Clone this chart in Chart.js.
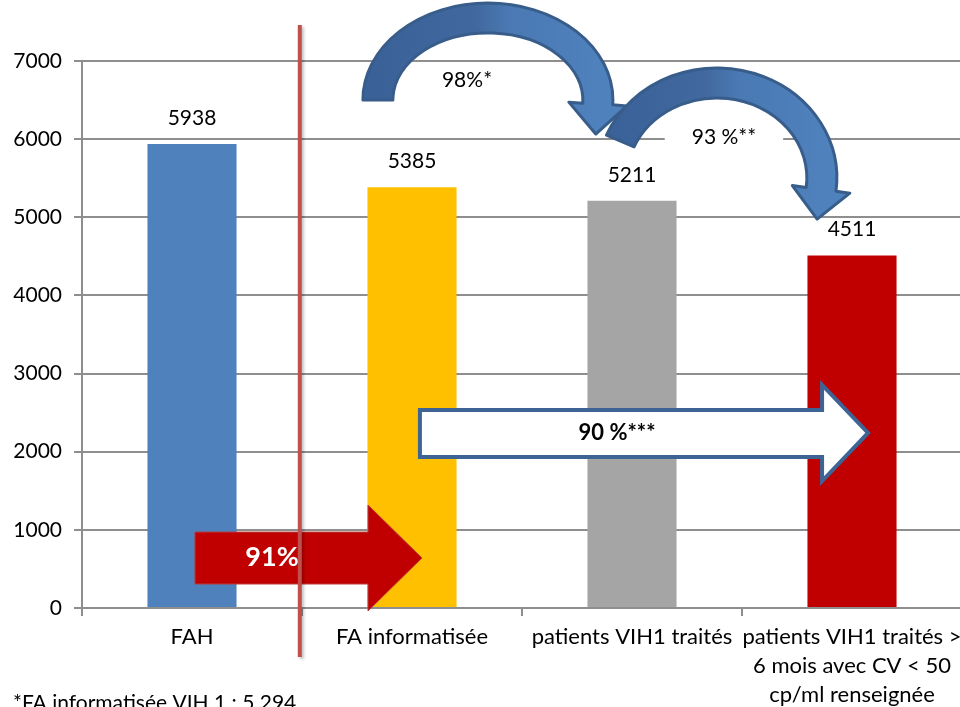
<!DOCTYPE html>
<html>
<head>
<meta charset="utf-8">
<script src="https://cdn.jsdelivr.net/npm/chart.js@4.4.0/dist/chart.umd.min.js"></script>
<style>
html,body{margin:0;padding:0;background:#fff;overflow:hidden;width:960px;height:707px;}
#wrap{position:absolute;left:0;top:0;width:962px;height:707px;}
</style>
</head>
<body>
<div id="wrap"><canvas id="c"></canvas></div>
<script>
// ---- data ----
const categories = [
  ['FAH'],
  ['FA informatisée'],
  ['patients VIH1 traités'],
  ['patients VIH1 traités >', '6 mois avec CV < 50', 'cp/ml renseignée']
];
const values = [5938, 5385, 5211, 4511];
const barColors = ['#4F81BD', '#FFC000', '#A5A5A5', '#C00000'];
const yMin = 0, yMax = 7000, yStep = 1000;
const curveLabels = ['98%*', '93 %**'];
const straightLabels = ['91%', '90 %***'];
const footnote = '*FA informatisée VIH 1 : 5 294';

const FONT = 'Lato, "Open Sans", "DejaVu Sans", sans-serif';
const GRID = '#8e8e8e';

function curvedArrow(ctx, cx, cy, rx, ry, a0, a1, t, extra, headLen) {
  const C = {x: cx + rx * Math.cos(a1), y: cy + ry * Math.sin(a1)};
  let tx = -rx * Math.sin(a1), ty = ry * Math.cos(a1);
  let tl = Math.hypot(tx, ty); tx /= tl; ty /= tl;
  let nx = ry * Math.cos(a1), ny = rx * Math.sin(a1);
  let nl = Math.hypot(nx, ny); nx /= nl; ny /= nl;
  const h = t / 2 + extra;
  ctx.beginPath();
  ctx.ellipse(cx, cy, rx + t / 2, ry + t / 2, 0, a0, a1, false);
  ctx.lineTo(C.x + nx * h, C.y + ny * h);
  ctx.lineTo(C.x + tx * headLen, C.y + ty * headLen);
  ctx.lineTo(C.x - nx * h, C.y - ny * h);
  ctx.ellipse(cx, cy, rx - t / 2, ry - t / 2, 0, a1, a0, true);
  ctx.closePath();
  const g = ctx.createLinearGradient(cx - rx, 0, cx + rx, 0);
  g.addColorStop(0, '#3B6298');
  g.addColorStop(0.45, '#41699F');
  g.addColorStop(0.6, '#4A79B3');
  g.addColorStop(1, '#4F81BD');
  ctx.fillStyle = g;
  ctx.fill();
  ctx.lineWidth = 3;
  ctx.strokeStyle = '#385D8A';
  ctx.lineJoin = 'round';
  ctx.stroke();
}

function straightArrow(ctx, X, Y, p, fill, stroke, lw) {
  ctx.beginPath();
  ctx.moveTo(X(p.x0), Y(p.top));
  ctx.lineTo(X(p.xh), Y(p.top));
  ctx.lineTo(X(p.xh), Y(p.htop));
  ctx.lineTo(X(p.xt), Y(p.mid));
  ctx.lineTo(X(p.xh), Y(p.hbot));
  ctx.lineTo(X(p.xh), Y(p.bot));
  ctx.lineTo(X(p.x0), Y(p.bot));
  ctx.closePath();
  ctx.fillStyle = fill;
  ctx.fill();
  ctx.lineWidth = lw;
  ctx.strokeStyle = stroke;
  ctx.lineJoin = 'miter';
  ctx.stroke();
}

const deco = {
  id: 'deco',
  afterDatasetsDraw(chart) {
    const ctx = chart.ctx;
    const xs = chart.scales.x, ys = chart.scales.y;
    const X = c => xs.getPixelForValue(c);
    const Y = v => ys.getPixelForValue(v);
    ctx.save();

    // white label boxes and texts for curved arrows
    ctx.font = '21px ' + FONT;
    ctx.textAlign = 'center';
    ctx.textBaseline = 'middle';
    const boxes = [{c: 1.25, v: 6757}, {c: 2.418, v: 6027}];
    boxes.forEach((b, i) => {
      const w = ctx.measureText(curveLabels[i]).width + 54;
      ctx.fillStyle = '#fff';
      ctx.fillRect(X(b.c) - w / 2, Y(b.v) - 18, w, 36);
      ctx.fillStyle = '#000';
      ctx.fillText(curveLabels[i], X(b.c), Y(b.v));
    });

    // curved arrows
    const arcs = [
      {c: 1.345, v: 6501, rc: 0.5, rv: 1049, a0: Math.PI, a1: 2 * Math.PI + 0.05},
      {c: 2.386, v: 5503, rc: 0.477, rv: 1216, a0: Math.PI + 0.4, a1: 2 * Math.PI + 0.12}
    ];
    arcs.forEach(a => {
      const cx = X(a.c), cy = Y(a.v);
      const rx = X(a.c + a.rc) - cx, ry = cy - Y(a.v + a.rv);
      curvedArrow(ctx, cx, cy, rx, ry, a.a0, a.a1, 30, 14, 30);
    });

    // value labels
    ctx.font = '21px ' + FONT;
    ctx.fillStyle = '#000';
    chart.getDatasetMeta(0).data.forEach((bar, i) => {
      ctx.fillText(String(values[i]), bar.x, bar.y - 26);
    });

    // red straight arrow
    straightArrow(ctx, X, Y, {x0: 0.0136, xh: 0.8, xt: 1.045, top: 972, bot: 307, htop: 1318, hbot: -38, mid: 640}, '#C00000', '#B83A3A', 1);
    ctx.font = 'bold 27px ' + FONT;
    ctx.fillStyle = '#fff';
    ctx.fillText(straightLabels[0], X(0.364), Y(653));

    // white straight arrow
    straightArrow(ctx, X, Y, {x0: 1.036, xh: 2.864, xt: 3.073, top: 2534, bot: 1932, htop: 2854, hbot: 1625, mid: 2240}, '#FFFFFF', '#3E6496', 4);
    ctx.font = 'bold 22px ' + FONT;
    ctx.fillStyle = '#000';
    ctx.fillText(straightLabels[1], X(1.932), Y(2240));

    // red vertical separator
    ctx.shadowColor = 'rgba(0,0,0,0.25)';
    ctx.shadowOffsetX = 2;
    ctx.shadowOffsetY = 2;
    ctx.shadowBlur = 3;
    ctx.beginPath();
    ctx.moveTo(X(0.49), Y(7461));
    ctx.lineTo(X(0.49), Y(-627));
    ctx.lineWidth = 4;
    ctx.strokeStyle = '#C0504D';
    ctx.stroke();
    ctx.shadowColor = 'transparent';

    // footnote
    ctx.font = '21px ' + FONT;
    ctx.fillStyle = '#000';
    ctx.textAlign = 'left';
    ctx.fillText(footnote, 13, 703);

    ctx.restore();
  }
};

new Chart(document.getElementById('c'), {
  type: 'bar',
  data: {
    labels: categories,
    datasets: [{
      data: values,
      backgroundColor: barColors,
      borderWidth: 0,
      categoryPercentage: 1,
      barPercentage: 0.405
    }]
  },
  options: {
    responsive: true,
    maintainAspectRatio: false,
    animation: false,
    layout: {autoPadding: false, padding: {top: 61, left: 0, right: 0, bottom: 0}},
    plugins: {legend: {display: false}, tooltip: {enabled: false}, title: {display: false}},
    scales: {
      x: {
        grid: {offset: true, drawOnChartArea: false, color: GRID, lineWidth: 2, tickLength: 8},
        border: {color: GRID, width: 2},
        ticks: {font: {family: FONT, size: 22, lineHeight: 1.32}, color: '#000', padding: 6, maxRotation: 0, autoSkip: false},
        afterFit(s) { s.height = 99; s.paddingLeft = 0; s.paddingRight = 0; }
      },
      y: {
        min: yMin, max: yMax,
        grid: {color: GRID, lineWidth: 2, tickLength: 8},
        border: {color: GRID, width: 2},
        ticks: {stepSize: yStep, font: {family: FONT, size: 21}, color: '#000', padding: 12,
          callback: v => String(v)},
        afterFit(s) { s.width = 82; s.paddingTop = 0; s.paddingBottom = 0; }
      }
    }
  },
  plugins: [deco]
});
</script>
</body>
</html>
